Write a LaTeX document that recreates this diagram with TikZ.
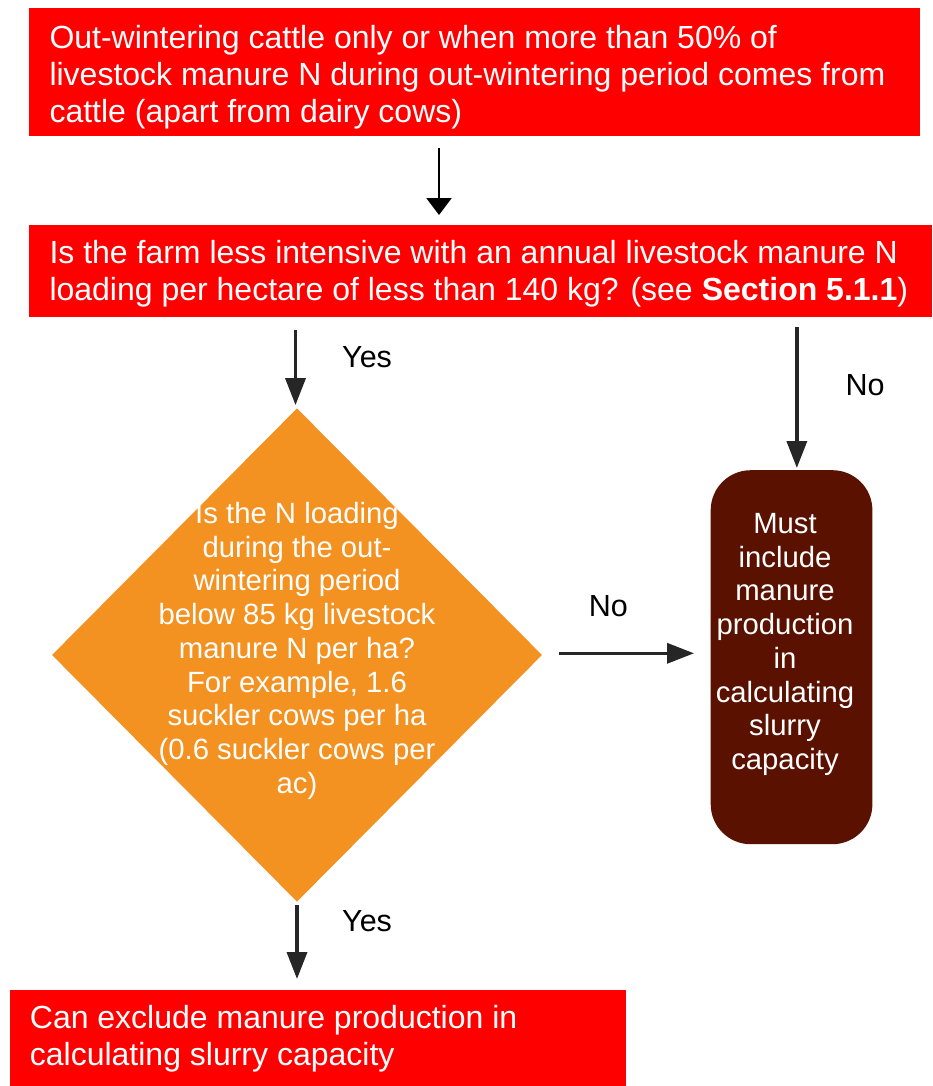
\documentclass[tikz,border=0pt]{standalone}
\usepackage{fontspec}
\setmainfont{Liberation Sans}
\usetikzlibrary{arrows.meta,shapes.geometric}
\definecolor{boxred}{HTML}{FF0000}
\definecolor{diaorange}{HTML}{F39121}
\definecolor{endbrown}{HTML}{5A1100}
\definecolor{arrowgray}{HTML}{262626}
\tikzset{
  redbox/.style={draw=none, fill=boxred, anchor=north west, inner sep=0pt},
  bigtext/.style={text=white, anchor=north west, inner sep=0pt, align=left,
    font=\fontsize{32}{36.8}\selectfont},
  smalltext/.style={text=white, anchor=north, inner sep=0pt, align=center,
    font=\fontsize{29.3}{33.7}\selectfont},
  lbl/.style={text=black, anchor=base west, inner sep=0pt,
    font=\fontsize{30.5}{33.7}\selectfont},
  thinarr/.style={draw=black, line width=2.5pt, -{Triangle[length=17pt,width=25pt]}},
  arr/.style={draw=arrowgray, line width=3.5pt, -{Triangle[length=27pt,width=20pt]}},
}
\begin{document}
\begin{tikzpicture}[x=1pt,y=-1pt]
\useasboundingbox (0,0) rectangle (932,1086);
\fill[white] (0,0) rectangle (932,1086);

% boxes
\node[redbox, minimum width=891pt, minimum height=127.5pt] (q0) at (29,8) {};
\node[bigtext] (t0) at (49.3,22.5) {\rule{0pt}{26pt}Out-wintering cattle only or when more than 50\% of\\
livestock manure N during out-wintering period comes from\\
cattle (apart from dairy cows)};

\node[redbox, minimum width=903pt, minimum height=91.7pt] (q1) at (29,225) {};
\node[bigtext] (t1) at (49.3,237.3) {\rule{0pt}{26pt}Is the farm less intensive with an annual livestock manure N\\
loading per hectare of less than 140 kg? (see \textbf{Section 5.1.1})};

\node[shape=diamond, fill=diaorange, draw=none, inner sep=0pt,
      minimum width=490pt, minimum height=493.4pt] (dia) at (297,655) {};
\node[smalltext] (tdia) at (297,499.3) {\rule{0pt}{24pt}Is the N loading\\
during the out-\\
wintering period\\
below 85 kg livestock\\
manure N per ha?\\
For example, 1.6\\
suckler cows per ha\\
(0.6 suckler cows per\\
ac)};

\node[fill=endbrown, draw=none, rounded corners=40pt, anchor=north west, inner sep=0pt,
      minimum width=161.7pt, minimum height=374pt] (br) at (710.5,470) {};
\node[smalltext] (tbr) at (785,509.3) {\rule{0pt}{24pt}Must\\
include\\
manure\\
production\\
in\\
calculating\\
slurry\\
capacity};

\node[redbox, minimum width=615.4pt, minimum height=100pt] (q3) at (10,990) {};
\node[bigtext] (t3) at (29.7,1002.3) {\rule{0pt}{26pt}Can exclude manure production in\\
calculating slurry capacity};

% connectors
\draw[thinarr, shorten <=12.5pt, shorten >=10pt]
  ([xshift=-35.7pt]q0.south) -- ([xshift=-35.7pt]q0.south |- q1.north);
\draw[arr, shorten <=12.5pt, shorten >=3pt]
  ([xshift=-1.5pt]dia.north |- q1.south) -- ([xshift=-1.5pt]dia.north);
\draw[arr, shorten <=10pt, shorten >=2pt]
  ([xshift=5.3pt]br.north |- q1.south) -- ([xshift=5.3pt]br.north);
\draw[arr, shorten <=17pt, shorten >=16.5pt]
  ([yshift=1.7pt]dia.east) -- ([yshift=1.7pt]br.west |- dia.east);
\draw[arr, shorten <=3.3pt, shorten >=11pt]
  (dia.south) -- (dia.south |- q3.north);

% labels
\node[lbl] (y1) at (342,367.7) {Yes};
\node[lbl] (n1) at (845.4,395) {No};
\node[lbl] (n2) at (588.6,616.7) {No};
\node[lbl] (y2) at (342,931.7) {Yes};
\end{tikzpicture}
\end{document}
